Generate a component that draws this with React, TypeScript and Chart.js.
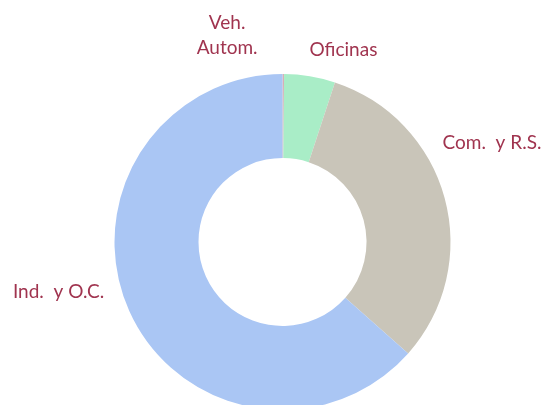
import React, { useEffect, useRef } from "react";
import { Chart, registerables } from "chart.js";

Chart.register(...registerables);

// Data
const categories = ["Veh.\nAutom.", "Oficinas", "Com.  y R.S.", "Ind.  y O.C."];
const shares = [0.15, 4.9, 31.5, 63.45];
const sliceColors = ["#D9AEB6", "#A9EDC7", "#C9C5B9", "#AAC6F4"];

// Label placement (polar, around the ring): angle in degrees clockwise from top, distance in outer radii
const labelAngles = [345, 17.6, 64.7, 257.4];
const labelDistances = [1.273, 1.199, 1.379, 1.366];

const LABEL_COLOR = "#A0344F";
const LABEL_FONT = "19px Lato, 'Open Sans', sans-serif";

const outsideLabels = {
  id: "outsideLabels",
  afterDatasetsDraw(chart: any) {
    const meta = chart.getDatasetMeta(0);
    const ctx = chart.ctx;
    ctx.save();
    ctx.fillStyle = LABEL_COLOR;
    ctx.font = LABEL_FONT;
    ctx.textAlign = "center";
    ctx.textBaseline = "middle";
    meta.data.forEach((arc: any, i: number) => {
      const { x, y, outerRadius } = arc.getProps(["x", "y", "outerRadius"], true);
      const a = (labelAngles[i] * Math.PI) / 180;
      const d = labelDistances[i] * outerRadius;
      const cx = x + Math.sin(a) * d;
      const cy = y - Math.cos(a) * d;
      const lines = String(chart.data.labels[i]).split("\n");
      const lh = 25;
      lines.forEach((ln: string, k: number) => {
        ctx.fillText(ln, cx, cy + (k - (lines.length - 1) / 2) * lh);
      });
    });
    ctx.restore();
  },
};

export default function App() {
  const ref = useRef<HTMLCanvasElement | null>(null);
  useEffect(() => {
    if (!ref.current) return;
    const chart = new Chart(ref.current, {
      type: "doughnut",
      data: {
        labels: categories,
        datasets: [
          {
            data: shares,
            backgroundColor: sliceColors,
            borderWidth: 0,
            hoverOffset: 0,
          },
        ],
      },
      options: {
        responsive: false,
        animation: false,
        devicePixelRatio: 1,
        cutout: "50%",
        layout: { padding: { left: 114.5, right: 94.5, top: 74, bottom: 10 } },
        plugins: { legend: { display: false }, tooltip: { enabled: false } },
        events: [],
      },
      plugins: [outsideLabels],
    });
    return () => chart.destroy();
  }, []);
  return (
    <div style={{ position: "absolute", left: 0, top: 0, width: 545, height: 405, overflow: "hidden", background: "#fff" }}>
      <canvas ref={ref} width={545} height={420} style={{ display: "block" }} />
    </div>
  );
}
